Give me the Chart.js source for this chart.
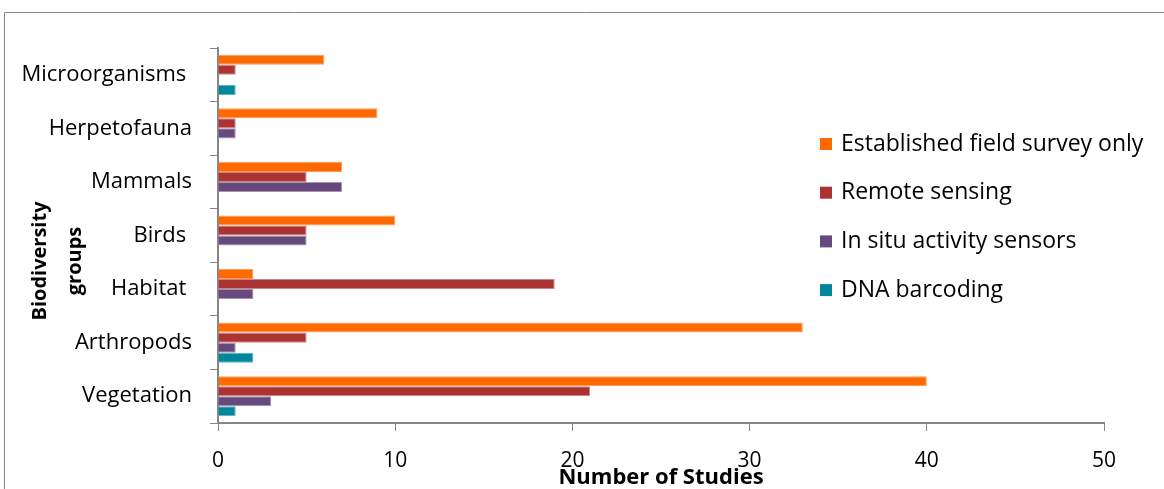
<!DOCTYPE html>
<html lang="en">
<head>
    <meta charset="UTF-8">
    <title>Biodiversity groups by method</title>
    <style>
        html, body {
            margin: 0;
            padding: 0;
            background: #fff;
        }
        #chart {
            display: block;
        }
    </style>
</head>
<body>
    <canvas id="chart" width="1164" height="489"></canvas>

    <script src="https://cdn.jsdelivr.net/npm/chart.js"></script>
    <script>
        const groups = ['Microorganisms ', 'Herpetofauna', 'Mammals', 'Birds ', 'Habitat ', 'Arthropods', 'Vegetation'];
        const fieldSurvey = [6, 9, 7, 10, 2, 33, 40];
        const remoteSensing = [1, 1, 5, 5, 19, 5, 21];
        const inSituSensors = [0, 1, 7, 5, 2, 1, 3];
        const dnaBarcoding = [1, 0, 0, 0, 0, 2, 1];
        const xTicks = [0, 10, 20, 30, 40, 50];

        const FONT = "'Open Sans', 'DejaVu Sans', sans-serif";
        const AXIS_GREY = '#868686';

        // frame around the whole chart
        const framePlugin = {
            id: 'frame',
            beforeDraw(chart) {
                const ctx = chart.ctx;
                ctx.save();
                ctx.strokeStyle = AXIS_GREY;
                ctx.lineWidth = 1;
                ctx.beginPath();
                ctx.moveTo(4.5, chart.height);
                ctx.lineTo(4.5, 12.5);
                ctx.lineTo(chart.width, 12.5);
                ctx.stroke();
                ctx.restore();
            }
        };

        // two-line rotated title for the category axis
        const groupTitlePlugin = {
            id: 'groupTitle',
            afterDraw(chart) {
                const ctx = chart.ctx;
                ctx.save();
                ctx.fillStyle = '#000';
                ctx.font = "bold 20px " + FONT;
                ctx.textAlign = 'center';
                ctx.textBaseline = 'middle';
                [['Biodiversity', 40], ['groups', 75]].forEach(([txt, x]) => {
                    ctx.save();
                    ctx.translate(x, 261);
                    ctx.rotate(-Math.PI / 2);
                    ctx.fillText(txt, 0, 0);
                    ctx.restore();
                });
                ctx.restore();
            }
        };

        // legend drawn inside the plot, on the right
        const sideLegendPlugin = {
            id: 'sideLegend',
            afterDraw(chart) {
                const ctx = chart.ctx;
                ctx.save();
                ctx.font = "23px " + FONT;
                ctx.textBaseline = 'middle';
                chart.data.datasets.forEach((ds, i) => {
                    const y = 144 + i * 48.7;
                    ctx.fillStyle = ds.backgroundColor;
                    ctx.fillRect(820, y - 6, 12, 12);
                    ctx.fillStyle = '#000';
                    ctx.fillText(ds.label, 841, y);
                });
                ctx.restore();
            }
        };

        const chart = new Chart(document.getElementById('chart'), {
            type: 'bar',
            data: {
                labels: groups,
                datasets: [
                    { label: 'Established field survey only', data: fieldSurvey, backgroundColor: '#FF6A00', borderColor: '#FF9A5C' },
                    { label: 'Remote sensing', data: remoteSensing, backgroundColor: '#AC3333', borderColor: '#C98585' },
                    { label: 'In situ activity sensors', data: inSituSensors, backgroundColor: '#674A7D', borderColor: '#A493B2' },
                    { label: 'DNA barcoding', data: dnaBarcoding, backgroundColor: '#00879B', borderColor: '#5FB3BF' }
                ]
            },
            options: {
                indexAxis: 'y',
                responsive: false,
                animation: false,
                datasets: {
                    bar: {
                        barPercentage: 1,
                        categoryPercentage: 0.75,
                        borderWidth: 1,
                        borderSkipped: 'start'
                    }
                },
                layout: {
                    padding: { top: 48, right: 60, bottom: 0, left: 0 }
                },
                plugins: {
                    legend: { display: false },
                    tooltip: { enabled: false }
                },
                scales: {
                    x: {
                        type: 'linear',
                        min: xTicks[0],
                        max: xTicks[xTicks.length - 1],
                        afterBuildTicks(scale) {
                            scale.ticks = xTicks.map(v => ({ value: v }));
                        },
                        afterFit(scale) {
                            scale.height = 66;
                        },
                        grid: {
                            drawOnChartArea: false,
                            drawTicks: true,
                            tickLength: 8,
                            color: AXIS_GREY
                        },
                        border: { display: true, color: AXIS_GREY, width: 2 },
                        ticks: {
                            padding: 17,
                            color: '#000',
                            font: { family: FONT, size: 21 }
                        },
                        title: {
                            display: true,
                            text: 'Number of Studies',
                            color: '#000',
                            padding: { top: 0, bottom: -2 },
                            font: { family: FONT, size: 22, weight: 'bold' }
                        }
                    },
                    y: {
                        afterFit(scale) {
                            scale.width = 218;
                        },
                        grid: {
                            offset: true,
                            drawOnChartArea: false,
                            drawTicks: true,
                            tickLength: 8,
                            color: AXIS_GREY
                        },
                        border: { display: true, color: AXIS_GREY, width: 2 },
                        ticks: {
                            padding: 18,
                            color: '#000',
                            font: { family: FONT, size: 22 }
                        }
                    }
                }
            },
            plugins: [framePlugin, groupTitlePlugin, sideLegendPlugin]
        });
    </script>
</body>
</html>
